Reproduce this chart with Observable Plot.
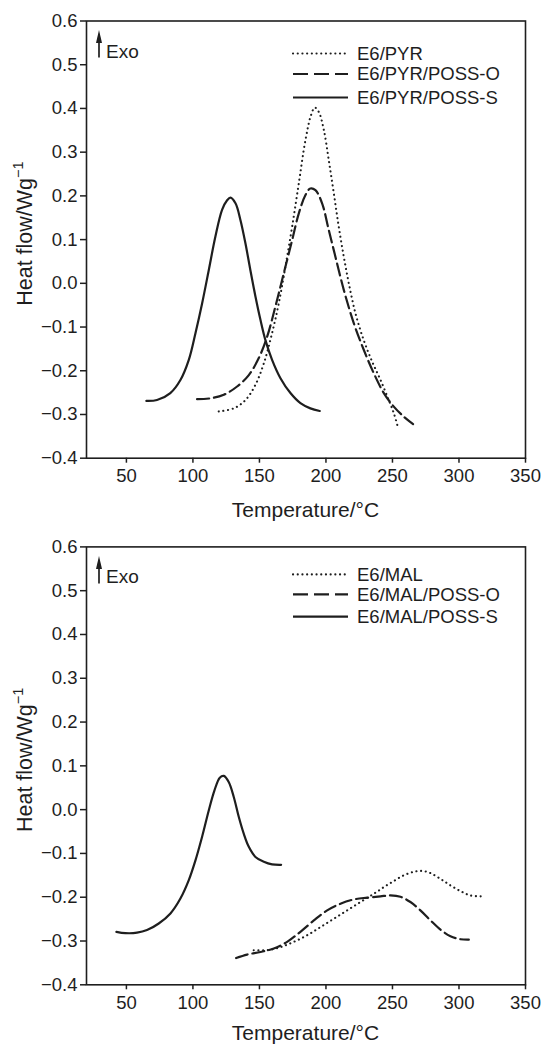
<!DOCTYPE html>
<html><head><meta charset="utf-8">
<script src="https://cdn.jsdelivr.net/npm/d3@7"></script>
<script src="https://cdn.jsdelivr.net/npm/@observablehq/plot@0.6"></script>
<style>
body{margin:0;background:#fff;}
svg{display:block;}
</style>
</head><body><div id="chart"></div>
<script>
// ---- tick values ----
const xTicks = [50, 100, 150, 200, 250, 300, 350];
const yTicks = [-0.4, -0.3, -0.2, -0.1, 0.0, 0.1, 0.2, 0.3, 0.4, 0.5, 0.6];
const xLabel = "Temperature/°C";
const yLabelMain = "Heat flow/Wg";
const yLabelSup = "−1";

// ---- top panel series ----
const pyrNames = ["E6/PYR", "E6/PYR/POSS-O", "E6/PYR/POSS-S"];
const pyrT  = [119.4,130.7,139.5,147,153.3,159.5,164.5,169.5,174.6,179.6,184.6,188.8,191.6,194.6,198.4,202.1,205.9,209.6,213.4,217.2,222.2,228.4,234.7,241,247.2,251,254];
const pyrV  = [-0.293,-0.286,-0.267,-0.232,-0.183,-0.114,-0.046,0.038,0.130,0.229,0.328,0.385,0.402,0.392,0.351,0.282,0.206,0.130,0.061,0.000,-0.069,-0.130,-0.179,-0.221,-0.267,-0.297,-0.328];
const pyrOT = [103.1,113.2,123.2,133.2,142,149.5,155.8,162,168.3,174.6,179.6,184.6,188.3,192.1,197.1,202.1,207.1,213.4,220.9,228.4,236,243.5,251,258.5,265.5];
const pyrOV = [-0.265,-0.263,-0.255,-0.236,-0.210,-0.171,-0.122,-0.053,0.023,0.099,0.160,0.202,0.217,0.213,0.183,0.122,0.061,-0.015,-0.091,-0.152,-0.206,-0.251,-0.282,-0.305,-0.322];
const pyrST = [65,73,83,90.6,96.9,101.9,106.9,111.9,116.9,121.9,125.7,128.2,132,135.7,139.5,143.2,147,150.8,154.5,159.5,165.8,173.3,180.8,188.3,195.3];
const pyrSV = [-0.269,-0.267,-0.251,-0.221,-0.175,-0.114,-0.046,0.030,0.107,0.168,0.190,0.196,0.183,0.145,0.091,0.030,-0.030,-0.084,-0.130,-0.175,-0.217,-0.251,-0.274,-0.286,-0.292];

// ---- bottom panel series ----
const malNames = ["E6/MAL", "E6/MAL/POSS-O", "E6/MAL/POSS-S"];
const malT  = [145.7,155.8,165.8,175.8,185.8,195.9,205.9,215.9,225.9,236,243.5,251,258.5,266,272.3,278.6,286.1,293.6,301.1,308.6,317.4];
const malV  = [-0.321,-0.321,-0.314,-0.302,-0.287,-0.268,-0.249,-0.230,-0.211,-0.192,-0.177,-0.163,-0.150,-0.142,-0.140,-0.145,-0.158,-0.173,-0.186,-0.196,-0.198];
const malOT = [132.5,140.7,150.8,160.8,170.8,180.8,190.9,200.9,210.9,221,231,241,248.5,256,263.5,271,278.6,286.1,293.6,301.1,307.4];
const malOV = [-0.339,-0.331,-0.325,-0.317,-0.302,-0.279,-0.253,-0.230,-0.215,-0.205,-0.201,-0.198,-0.196,-0.199,-0.211,-0.230,-0.253,-0.274,-0.289,-0.296,-0.297];
const malST = [42.5,49.2,58,65.5,74.3,83.1,90.6,96.9,101.9,106.9,111.9,116.2,120.2,123.2,126.9,130.7,134.5,138.2,142,147,153.3,159.5,166.3];
const malSV = [-0.279,-0.282,-0.281,-0.275,-0.260,-0.237,-0.203,-0.161,-0.116,-0.062,-0.002,0.044,0.073,0.077,0.063,0.029,-0.017,-0.055,-0.085,-0.108,-0.119,-0.125,-0.126];

// ---- styles ----
const ink = "#1e1e1e";
const lineStyles = [
  {strokeDasharray: "0.1,4.6", strokeWidth: 2.1, strokeLinecap: "round"},
  {strokeDasharray: "12,5", strokeWidth: 2.2},
  {strokeWidth: 2.2}
];
const fontFamily = "'Liberation Sans', Arial, Helvetica, sans-serif";

function toRows(T, V) { return T.map((t, i) => ({T: t, v: V[i]})); }

function panel(cfg) {
  const {height, mt, mb, names, series, legendRows, labelGap} = cfg;
  const ml = 86, mr = 17, W = 542;
  const marks = [
    Plot.frame({stroke: ink, strokeWidth: 1.6}),
    Plot.axisX({ticks: xTicks, tickSize: 5, tickPadding: 6, label: null, fontSize: 18.5, strokeWidth: 1.5}),
    Plot.axisY({ticks: yTicks, tickSize: 6, tickPadding: 3, tickFormat: d3.format(".1f"), label: null, fontSize: 18.5, strokeWidth: 1.5}),
    ...series.map((s, i) => Plot.line(toRows(s[0], s[1]), {x: "T", y: "v", curve: "catmull-rom", stroke: ink, ...lineStyles[i]}))
  ];
  const svg = Plot.plot({
    width: W, height, marginLeft: ml, marginRight: mr, marginTop: mt, marginBottom: mb,
    x: {domain: [20, 350]}, y: {domain: [-0.4, 0.6]},
    style: {fontFamily, fontSize: "18px", color: ink, background: "#fff", overflow: "visible"},
    marks
  });
  const g = d3.select(svg).append("g").attr("font-family", fontFamily).attr("fill", ink)
    .attr("text-anchor", "start");
  const fTop = mt, fBot = height - mb, fL = ml, fR = W - mr;
  // Exo arrow
  const ax = fL + 13, ab = fTop + 37, at = fTop + 9.5;
  g.append("line").attr("x1", ax).attr("x2", ax).attr("y1", ab).attr("y2", at + 8)
    .attr("stroke", ink).attr("stroke-width", 1.7);
  g.append("path").attr("d", `M${ax - 3},${at + 13}L${ax},${at}L${ax + 3},${at + 13}Z`).attr("fill", ink);
  g.append("text").attr("x", fL + 20).attr("y", ab).attr("font-size", 19).attr("text-anchor", "start").text("Exo");
  // legend
  const lx0 = 293, lx1 = 348, tx = 357;
  names.forEach((n, i) => {
    const y = fTop + legendRows[i];
    const st = lineStyles[i];
    g.append("line").attr("x1", lx0).attr("x2", lx1).attr("y1", y).attr("y2", y)
      .attr("stroke", ink).attr("stroke-width", st.strokeWidth)
      .attr("stroke-dasharray", i === 1 ? "15,6" : (st.strokeDasharray || null))
      .attr("stroke-linecap", st.strokeLinecap || null);
    g.append("text").attr("x", tx).attr("y", y).attr("dy", "0.35em").attr("font-size", 18.5)
      .attr("text-anchor", "start").text(n);
  });
  // x label
  g.append("text").attr("x", (fL + fR) / 2).attr("y", fBot + labelGap).attr("text-anchor", "middle")
    .attr("font-size", 21).text(xLabel);
  // y label
  const cy = (fTop + fBot) / 2 - 5.5;
  const yl = g.append("text").attr("transform", `translate(32,${cy}) rotate(-90)`)
    .attr("text-anchor", "middle").attr("font-size", 21.5);
  yl.append("tspan").text(yLabelMain);
  yl.append("tspan").attr("font-size", 14.5).attr("dy", "-0.6em").text(yLabelSup);
  return svg;
}

const root = document.getElementById("chart");
root.appendChild(panel({
  height: 525, mt: 20.5, mb: 67.3, names: pyrNames, labelGap: 59,
  series: [[pyrT, pyrV], [pyrOT, pyrOV], [pyrST, pyrSV]],
  legendRows: [33, 53.5, 77]
}));
root.appendChild(panel({
  height: 524, mt: 21.4, mb: 64.7, names: malNames, labelGap: 56,
  series: [[malT, malV], [malOT, malOV], [malST, malSV]],
  legendRows: [28, 48, 70.3]
}));
</script>
</body></html>
